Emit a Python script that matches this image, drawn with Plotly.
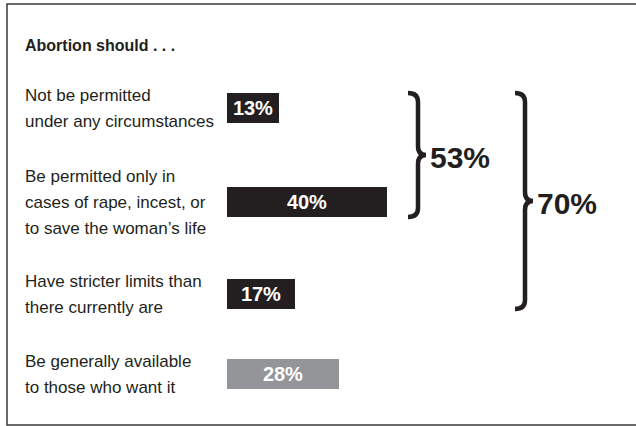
import plotly.graph_objects as go

# ---- data ----
title_text = "Abortion should . . ."
categories = [
    "Not be permitted\nunder any circumstances",
    "Be permitted only in\ncases of rape, incest, or\nto save the woman\u2019s life",
    "Have stricter limits than\nthere currently are",
    "Be generally available\nto those who want it",
]
values = [13, 40, 17, 28]
value_labels = ["13%", "40%", "17%", "28%"]
group_totals = [53, 70]          # first 2 rows, first 3 rows
group_sizes = [2, 3]

# ---- layout constants (pixels) ----
W, H = 636, 426
BAR_X0 = 227          # pixel where 0% sits
PX_PER_PCT = 4.0
row_y = [108, 202, 294, 374]   # bar centres (pixel rows)
BAR_H = 30
LINE_GAP = 26
LABEL_X = 23
DARK = "#231f20"
GRAY = "#939598"
bar_colors = [DARK, DARK, DARK, GRAY]
FONT = "Liberation Sans, Arial, sans-serif"

fig = go.Figure()
fig.add_trace(go.Bar(
    x=values, y=row_y, orientation="h", width=BAR_H,
    marker=dict(color=bar_colors, line=dict(width=0)),
    text=value_labels, textposition="inside", insidetextanchor="middle",
    textfont=dict(family=FONT, size=20, color="white", weight="bold"),
    hoverinfo="skip", cliponaxis=False,
))

annotations = []
annotations.append(dict(
    x=LABEL_X / W, y=45, xref="paper", yref="y", text="<b>" + title_text + "</b>",
    showarrow=False, xanchor="left", yanchor="middle",
    font=dict(family=FONT, size=16, color=DARK)))

for cat, yc in zip(categories, row_y):
    lines = cat.split("\n")
    n = len(lines)
    for i, ln in enumerate(lines):
        annotations.append(dict(
            x=LABEL_X / W, y=yc + (i - (n - 1) / 2) * LINE_GAP, xref="paper", yref="y",
            text=ln, showarrow=False, xanchor="left", yanchor="middle",
            font=dict(family=FONT, size=17, color=DARK)))

shapes = []
brace_x = [408, 515]
for total, size, bx in zip(group_totals, group_sizes, brace_x):
    y0 = row_y[0] - BAR_H / 2
    y1 = row_y[size - 1] + BAR_H / 2
    ym = (y0 + y1) / 2
    x0 = bx / W
    xm = (bx + 10) / W
    xt = (bx + 18) / W
    r = 9
    path = (f"M {x0},{y0} Q {xm},{y0} {xm},{y0 + r} L {xm},{ym - r} "
            f"Q {xm},{ym} {xt},{ym} Q {xm},{ym} {xm},{ym + r} "
            f"L {xm},{y1 - r} Q {xm},{y1} {x0},{y1}")
    shapes.append(dict(type="path", path=path, xref="paper", yref="y",
                       line=dict(color=DARK, width=4.5)))
    annotations.append(dict(
        x=(bx + 20) / W, y=ym + 2, xref="paper", yref="y", text=f"{total}%",
        showarrow=False, xanchor="left", yanchor="middle",
        font=dict(family=FONT, size=30, color=DARK, weight="bold")))

# frame
shapes.append(dict(type="rect", xref="paper", yref="paper",
                   x0=7 / W, x1=1.01, y0=1 - 425 / H, y1=1 - 4 / H,
                   line=dict(color="#3a3a3a", width=1.5)))

fig.update_layout(
    width=W, height=H, margin=dict(l=0, r=0, t=0, b=0),
    paper_bgcolor="white", plot_bgcolor="white", showlegend=False,
    xaxis=dict(range=[-BAR_X0 / PX_PER_PCT, (W - BAR_X0) / PX_PER_PCT],
               visible=False, fixedrange=True),
    yaxis=dict(range=[H, 0], visible=False, fixedrange=True),
    annotations=annotations, shapes=shapes,
)

fig.write_html("out.html")
